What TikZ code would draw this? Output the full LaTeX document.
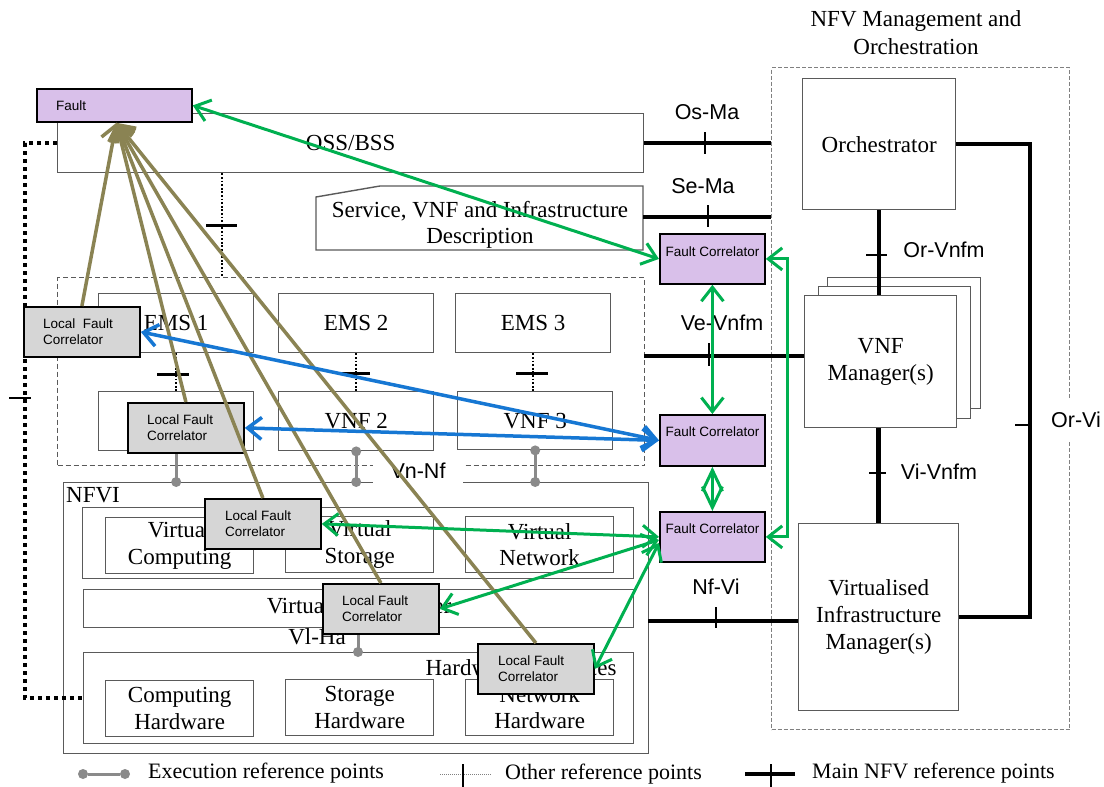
\documentclass[tikz,border=0pt]{standalone}
\usepackage{fontspec}
\setmainfont{Liberation Serif}
\newfontfamily\arialf{Liberation Sans}
\usetikzlibrary{arrows.meta}
\definecolor{fcpurple}{HTML}{D9C0EA}
\definecolor{lfcgrey}{HTML}{D6D6D6}
\definecolor{folive}{HTML}{8A8353}
\definecolor{fblue}{HTML}{1677D3}
\definecolor{fgreen}{HTML}{00B050}
\definecolor{bgrey}{HTML}{5A5A5A}
\definecolor{exgrey}{HTML}{8A8A8A}
\tikzset{
 blk/.style={draw=bgrey, line width=1.4pt, fill=white, inner sep=0pt, anchor=north west},
 grpbox/.style={draw=bgrey, line width=1.2pt, dash pattern=on 5pt off 3pt, inner sep=0pt, anchor=north west},
 fcbox/.style={draw=black, line width=1.8pt, fill=fcpurple, inner sep=0pt, anchor=north west, minimum width=105pt, minimum height=50pt},
 lfcbox/.style={draw=black, line width=1.8pt, fill=lfcgrey, inner sep=0pt, anchor=north west, minimum width=116pt, minimum height=50pt},
 sertxt/.style={font=\fontsize{23}{26.5}\selectfont, align=center, inner sep=0pt},
 reflbl/.style={font=\arialf\fontsize{21.5}{24}\selectfont, inner sep=0pt},
 smtxt/.style={font=\arialf\fontsize{13.5}{15.5}\selectfont, inner sep=0pt, align=left},
 mainref/.style={line width=4.5pt},
 reftick/.style={line width=2pt},
 othtick/.style={line width=3pt},
 othref/.style={line width=1.8pt, dash pattern=on 1.8pt off 1.8pt},
 bigdot/.style={line width=4pt, dash pattern=on 4pt off 4pt},
 exref/.style={line width=3pt, exgrey},
 exdot/.style={circle, fill=exgrey, inner sep=0pt, minimum size=10pt},
 mybarb/.tip={Straight Barb[length=14pt,width=22pt]},
 diabarb/.tip={Straight Barb[length=21pt,width=20pt]},
 garrow/.style={fgreen, line width=3pt, mybarb-mybarb},
 barrow/.style={fblue, line width=3.5pt, mybarb-mybarb},
 oarrow/.style={folive, line width=3.5pt, -{Straight Barb[length=14pt,width=24pt]}},
}
\begin{document}
\begin{tikzpicture}[x=1pt,y=-1pt]
\useasboundingbox (0,0) rectangle (1104,787);
\fill[white] (0,0) rectangle (1104,787);

% ---------- group boxes ----------
\node[grpbox, draw=gray, dash pattern=on 4pt off 2pt, minimum width=298pt, minimum height=662pt] (mano) at (771,67) {};
\node[sertxt, font=\fontsize{23}{28}\selectfont] (manot) at (916,33) {NFV Management and\\Orchestration};
\node[grpbox, minimum width=587pt, minimum height=188pt] (emsg) at (57,277) {};
\node[blk, fill=none, minimum width=585pt, minimum height=271pt] (nfvi) at (63,482) {};
\node[sertxt, anchor=west] (nfvit) at (66,495) {NFVI};

% ---------- OSS / service ----------
\node[blk, minimum width=586pt, minimum height=59pt, sertxt] (oss) at (57,113) {OSS/BSS};
\draw[draw=bgrey, line width=1.4pt, fill=white] (316,250) -- (316,197) -- (380,186) -- (643,186) -- (643,250) -- cycle;
\node[sertxt] (svc) at (480,225) {Service, VNF and Infrastructure\\Description};
\coordinate (svcE) at (643,217);

% ---------- MANO ----------
\node[blk, minimum width=153pt, minimum height=131pt, sertxt] (orch) at (802,78) {Orchestrator};
\node[blk, minimum width=153pt, minimum height=131pt] (vnfm3) at (827,277) {};
\node[blk, minimum width=152pt, minimum height=132pt] (vnfm2) at (818,286) {};
\node[blk, minimum width=152pt, minimum height=132pt, sertxt] (vnfm) at (804,295) {VNF\\Manager(s)};
\node[blk, minimum width=160pt, minimum height=187pt, sertxt, font=\fontsize{23}{27}\selectfont] (vim) at (798,523) {Virtualised\\Infrastructure\\Manager(s)};

% ---------- EMS / VNF ----------
\node[blk, minimum width=155pt, minimum height=59pt, sertxt] (ems1) at (98,293) {EMS 1};
\node[blk, minimum width=155pt, minimum height=59pt, sertxt] (ems2) at (278,293) {EMS 2};
\node[blk, minimum width=155pt, minimum height=59pt, sertxt] (ems3) at (455,293) {EMS 3};
\node[blk, minimum width=155pt, minimum height=59pt] (vnf1) at (98,391) {};
\node[blk, minimum width=155pt, minimum height=59pt, sertxt] (vnf2) at (278,391) {VNF 2};
\node[blk, minimum width=155pt, minimum height=58pt, sertxt] (vnf3) at (457,391) {VNF 3};

% ---------- NFVI ----------
\node[blk, minimum width=551pt, minimum height=71pt] (vres) at (82,507) {};
\node[blk, minimum width=148pt, minimum height=56pt, sertxt] (vcomp) at (105,517) {Virtual\\Computing};
\node[blk, minimum width=148pt, minimum height=56pt, sertxt] (vstor) at (285,516) {Virtual\\Storage};
\node[blk, minimum width=148pt, minimum height=56pt, sertxt] (vnet) at (465,516) {Virtual\\Network};
\node[blk, minimum width=550pt, minimum height=38pt] (vlayer) at (83,589) {};
\node[sertxt] (vlayert) at (359,608) {Virtualisation Layer};
\node[sertxt] (vlha) at (317,637) {Vl-Ha};
\node[blk, minimum width=550pt, minimum height=91pt] (hwres) at (83,652) {};
\node[sertxt] (hwrest) at (521,668) {Hardware Resources};
\node[blk, minimum width=148pt, minimum height=56pt, sertxt] (chw) at (105,680) {Computing\\Hardware};
\node[blk, minimum width=148pt, minimum height=56pt, sertxt] (shw) at (285,679) {Storage\\Hardware};
\node[blk, minimum width=148pt, minimum height=56pt, sertxt] (nhw) at (465,679) {Network\\Hardware};

% ---------- main NFV reference points ----------
\coordinate (osmaE) at (mano.west |- oss.east);
\coordinate (semaE) at (mano.west |- svcE);
\draw[mainref] (oss.east) -- (osmaE);
\draw[mainref] (svcE) -- (semaE);
\coordinate (veL) at (644,356);
\draw[mainref] (veL) -- (vnfm.west |- veL);
\coordinate (nfL) at (648,621);
\draw[mainref] (nfL) -- (vim.west |- nfL);
\draw[mainref] (orch.south) -- (orch.south |- vnfm.north);
\draw[mainref] (vim.north |- vnfm.south) -- (vim.north);
\coordinate (orvX) at (1030,400);
\draw[mainref] (orch.east) -| (orvX) |- (vim.east);
% ticks
\draw[reftick] (705,132) -- (705,154);
\draw[reftick] (708,205) -- (708,227);
\draw[reftick] (709,343) -- (709,366);
\draw[reftick] (716,607) -- (716,628);
\draw[reftick] (866,255) -- (887,255);
\draw[reftick] (869,473) -- (886,473);
\draw[reftick] (1015,425) -- (1032,425);
% labels
\node[reflbl] (osma) at (707,112) {Os-Ma};
\node[reflbl] (sema) at (703,186) {Se-Ma};
\node[reflbl] (vevnfm) at (722,323) {Ve-Vnfm};
\node[reflbl] (orvnfm) at (944,250) {Or-Vnfm};
\node[reflbl] (vivnfm) at (939,472) {Vi-Vnfm};
\node[reflbl] (nfvi2) at (716,587) {Nf-Vi};
\node[reflbl, fill=white, minimum height=42pt, inner xsep=3pt] (orvi) at (1076,420) {Or-Vi};

% ---------- other reference points ----------
\coordinate (c222) at (222,0);
\draw[othref] (oss.south -| c222) -- (emsg.north -| c222);
\draw[othtick] (206,225) -- (237,225);
\draw[othref] (ems1.south) -- (vnf1.north);
\draw[othtick] (157,374) -- (189,374);
\draw[othref] (ems2.south) -- (vnf2.north);
\draw[othtick] (340,373) -- (370,373);
\draw[othref] (ems3.south) -- (ems3.south |- vnf3.north);
\draw[othtick] (516,373) -- (548,373);
\coordinate (c25) at (25,400);
\draw[bigdot] (oss.west) -| (c25) |- (hwres.west);
\draw[reftick, line width=2.5pt] (9,398) -- (31,398);

% ---------- execution reference points ----------
\coordinate (exb1) at (vnf1.south |- nfvi.north);
\coordinate (exb2) at (vnf2.south |- nfvi.north);
\coordinate (exb3) at (vnf3.south |- nfvi.north);
\draw[exref] (vnf1.south) -- (exb1);
\draw[exref] (vnf2.south) -- (exb2);
\draw[exref] (vnf3.south) -- (exb3);
\node[exdot] (d1b) at (exb1) {};
\node[exdot] (d2a) at (vnf2.south) {};
\node[exdot] (d2b) at (exb2) {};
\node[exdot] (d3a) at (vnf3.south) {};
\node[exdot] (d3b) at (exb3) {};
\node[reflbl, fill=white, minimum width=90pt, minimum height=34pt] (vnnf) at (418,471) {Vn-Nf};
\coordinate (c358) at (358,0);
\draw[exref] (vlayer.south -| c358) -- (hwres.north -| c358);
\node[exdot] (d4b) at (hwres.north -| c358) {};

% ---------- fault boxes ----------
\node[fcbox, minimum width=155pt, minimum height=33pt] (fault) at (36,88) {};
\node[smtxt, anchor=west] (faultt) at (56,106) {Fault};
\node[fcbox] (fc1) at (659,233) {};
\node[smtxt] (fc1t) at ([yshift=-19pt]fc1.north) {Fault Correlator};
\node[fcbox, minimum height=51pt] (fc2) at (659,414) {};
\node[smtxt] (fc2t) at ([yshift=-18pt]fc2.north) {Fault Correlator};
\node[fcbox] (fc3) at (659,511) {};
\node[smtxt] (fc3t) at ([yshift=-18pt]fc3.north) {Fault Correlator};

\node[lfcbox] (lfc1) at (23,306) {};
\node[smtxt, anchor=west] (lfc1t) at ([xshift=20pt]lfc1.west) {Local\ \ Fault\\Correlator};
\node[lfcbox] (lfc2) at (127,402) {};
\node[smtxt, anchor=west] (lfc2t) at ([xshift=20pt]lfc2.west) {Local Fault\\Correlator};
\node[lfcbox] (lfc3) at (204,498) {};
\node[smtxt, anchor=west] (lfc3t) at ([xshift=21pt]lfc3.west) {Local Fault\\Correlator};
\node[lfcbox] (lfc4) at (322,583) {};
\node[smtxt, anchor=west] (lfc4t) at ([xshift=20pt]lfc4.west) {Local Fault\\Correlator};
\node[lfcbox] (lfc5) at (477,643) {};
\node[smtxt, anchor=west] (lfc5t) at ([xshift=21pt]lfc5.west) {Local Fault\\Correlator};

% ---------- olive arrows ----------
\foreach \l in {lfc1,lfc2,lfc3,lfc4,lfc5}
  \draw[oarrow] (\l.north) -- ([xshift=2pt]fault.south);

% ---------- blue arrows ----------
\draw[barrow] (lfc1.east) -- (fc2.west);
\draw[barrow] (lfc2.east) -- (fc2.west);

% ---------- green arrows ----------
\draw[garrow] (fault.east) -- (fc1.west);
\draw[garrow] (fc1.south) -- (fc2.north);
\draw[fgreen, line width=3pt, diabarb-diabarb] (fc2.south) -- (fc3.north);
\draw[garrow] (fc1.east) -- ++(22,0) |- (fc3.east);
\draw[garrow] (lfc3.east) -- (fc3.west);
\draw[garrow] (lfc4.east) -- ([yshift=-3pt]fc3.west);
\draw[garrow] (lfc5.east) -- ([yshift=-6pt]fc3.west);

% ---------- legend ----------
\node[exdot] (lg1) at (83,774) {};
\node[exdot] (lg2) at (125,774) {};
\draw[exref] (lg1) -- (lg2);
\node[sertxt, anchor=west, font=\fontsize{22}{24}\selectfont] (lgt1) at (148,773) {Execution reference points};
\coordinate (lo1) at (440,774);
\coordinate (lo2) at (492,774);
\draw[gray, line width=1pt, dash pattern=on 1pt off 1pt] (lo1) -- (lo2);
\draw[line width=1.5pt] (463,764) -- (463,787);
\node[sertxt, anchor=west, font=\fontsize{22}{24}\selectfont] (lgt2) at (505,774) {Other reference points};
\coordinate (lm1) at (745,774);
\coordinate (lm2) at (795,774);
\draw[mainref] (lm1) -- (lm2);
\draw[line width=2pt] (771,764) -- (771,787);
\node[sertxt, anchor=west, font=\fontsize{22}{24}\selectfont] (lgt3) at (812,773) {Main NFV reference points};
\end{tikzpicture}
\end{document}
